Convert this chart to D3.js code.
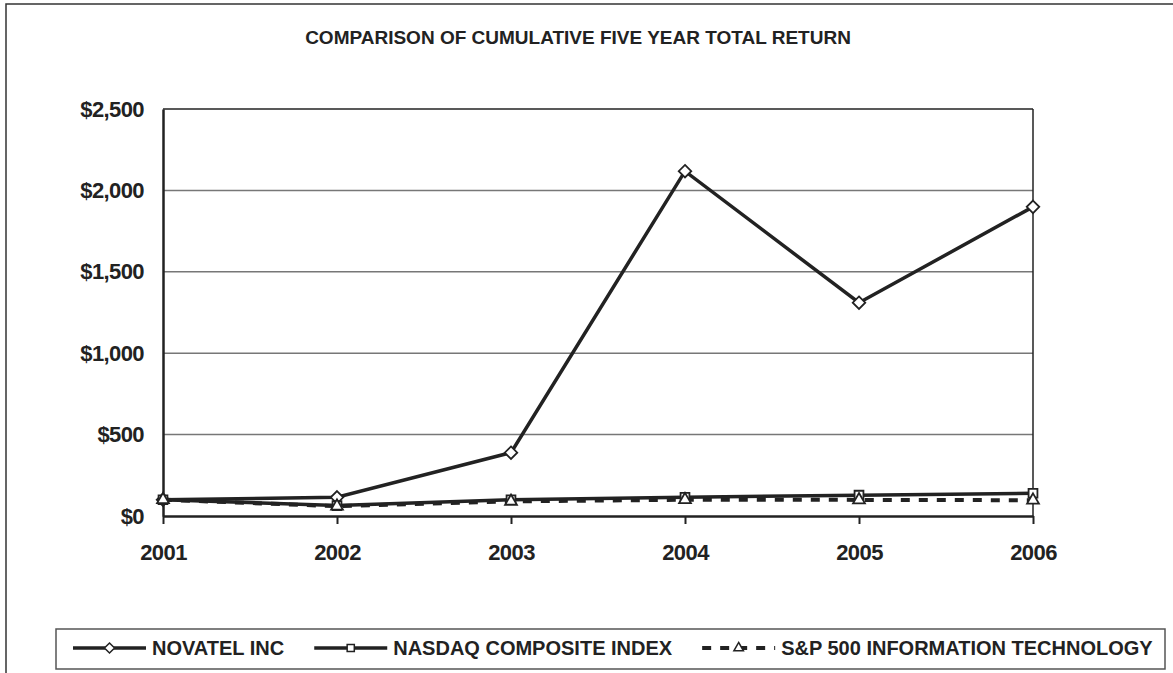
<!DOCTYPE html>
<html>
<head>
<meta charset="utf-8">
<script src="https://cdn.jsdelivr.net/npm/d3@7"></script>
<style>
  body { margin: 0; background: #fff; overflow: hidden; }
  text { font-family: "Liberation Sans", Arial, sans-serif; font-weight: bold; fill: #222; }
</style>
</head>
<body>
<svg id="chart"></svg>
<script>
// Cumulative five year total return line chart
const years = ["2001", "2002", "2003", "2004", "2005", "2006"];
const novatel = [100, 115, 389, 2118, 1310, 1899];
const nasdaq = [100, 64, 100, 115, 128, 140];
const spIT = [100, 60, 90, 100, 99, 97];
const yTicks = [0, 500, 1000, 1500, 2000, 2500];
const seriesNames = ["NOVATEL INC", "NASDAQ COMPOSITE INDEX", "S&P 500 INFORMATION TECHNOLOGY"];

const width = 1173;
const height = 673;
const margin = { top: 109, right: 140, bottom: 157, left: 163 };

const series = [
    { name: seriesNames[0], values: novatel, marker: d3.symbolDiamond2, dash: null },
    { name: seriesNames[1], values: nasdaq, marker: d3.symbolSquare2, dash: null },
    { name: seriesNames[2], values: spIT, marker: d3.symbolTriangle2, dash: "9,9" }
];

const chart = d3.select("#chart")
    .attr("width", width)
    .attr("height", height);

// outer frame (runs past the right and bottom edges)
chart.append("rect")
    .attr("x", 6).attr("y", 4)
    .attr("width", 1200).attr("height", 700)
    .attr("fill", "none").attr("stroke", "#333").attr("stroke-width", 1.5);

chart.append("text")
    .attr("x", 578).attr("y", 44)
    .attr("text-anchor", "middle")
    .style("font-size", "19px")
    .text("COMPARISON OF CUMULATIVE FIVE YEAR TOTAL RETURN");

const x = d3.scalePoint()
    .domain(years)
    .range([margin.left, width - margin.right]);

const y = d3.scaleLinear()
    .domain([0, 2500])
    .range([height - margin.bottom, margin.top]);

// gridlines
chart.append("g")
    .selectAll("line")
    .data(yTicks.slice(1))
    .join("line")
    .attr("x1", margin.left).attr("x2", width - margin.right)
    .attr("y1", d => y(d)).attr("y2", d => y(d))
    .attr("stroke", d => d === 2500 ? "#222" : "#777")
    .attr("stroke-width", 1.5);

// right border of plot
chart.append("line")
    .attr("x1", width - margin.right).attr("x2", width - margin.right)
    .attr("y1", margin.top).attr("y2", y(0))
    .attr("stroke", "#222").attr("stroke-width", 1.5);

// y axis
const yAxis = chart.append("g")
    .attr("transform", `translate(${margin.left},0)`)
    .call(d3.axisLeft(y).tickValues(yTicks).tickSize(0).tickPadding(19)
        .tickFormat(d => "$" + d3.format(",")(d)));
yAxis.select(".domain").attr("stroke", "#222").attr("stroke-width", 2.5);
yAxis.selectAll("text").style("font-size", "22px").style("letter-spacing", "-0.6px").attr("fill", "#222");

// x axis
const xAxis = chart.append("g")
    .attr("transform", `translate(0,${y(0)})`)
    .call(d3.axisBottom(x).tickSize(8).tickSizeOuter(0).tickPadding(20));
xAxis.select(".domain").attr("stroke", "#222").attr("stroke-width", 2.5);
xAxis.selectAll(".tick line").attr("stroke", "#222").attr("stroke-width", 2);
xAxis.selectAll("text").style("font-size", "22px").style("letter-spacing", "-0.6px").attr("fill", "#222");

const line = d3.line()
    .x((d, i) => x(years[i]))
    .y(d => y(d));

// draw lines, last series first so NOVATEL sits on top
series.slice().reverse().forEach(s => {
    chart.append("path")
        .datum(s.values)
        .attr("d", line)
        .attr("fill", "none")
        .attr("stroke", "#222")
        .attr("stroke-width", s.dash ? 4 : 3.5)
        .attr("stroke-dasharray", s.dash);
});

series.forEach(s => {
    chart.append("g")
        .selectAll("path")
        .data(s.values)
        .join("path")
        .attr("transform", (d, i) => `translate(${x(years[i])},${y(d)})`)
        .attr("d", d3.symbol(s.marker, 100)())
        .attr("fill", "#fff")
        .attr("stroke", "#222")
        .attr("stroke-width", 1.8);
});

// legend
const legend = chart.append("g");
legend.append("rect")
    .attr("x", 56).attr("y", 629)
    .attr("width", 1109).attr("height", 40)
    .attr("fill", "#fff").attr("stroke", "#555").attr("stroke-width", 1.5);

let lx = 73;
const ly = 648;
series.forEach(s => {
    const g = legend.append("g");
    g.append("line")
        .attr("x1", lx).attr("x2", lx + 73)
        .attr("y1", ly).attr("y2", ly)
        .attr("stroke", "#222")
        .attr("stroke-width", s.dash ? 4 : 3.5)
        .attr("stroke-dasharray", s.dash ? "9,9" : null);
    g.append("path")
        .attr("transform", `translate(${lx + 36.5},${ly})`)
        .attr("d", d3.symbol(s.marker, 65)())
        .attr("fill", "#fff").attr("stroke", "#222").attr("stroke-width", 1.5);
    const t = g.append("text")
        .attr("x", lx + 79).attr("y", ly + 7)
        .style("font-size", "20px")
        .text(s.name);
    lx += 79 + t.node().getComputedTextLength() + 30;
});
</script>
</body>
</html>
